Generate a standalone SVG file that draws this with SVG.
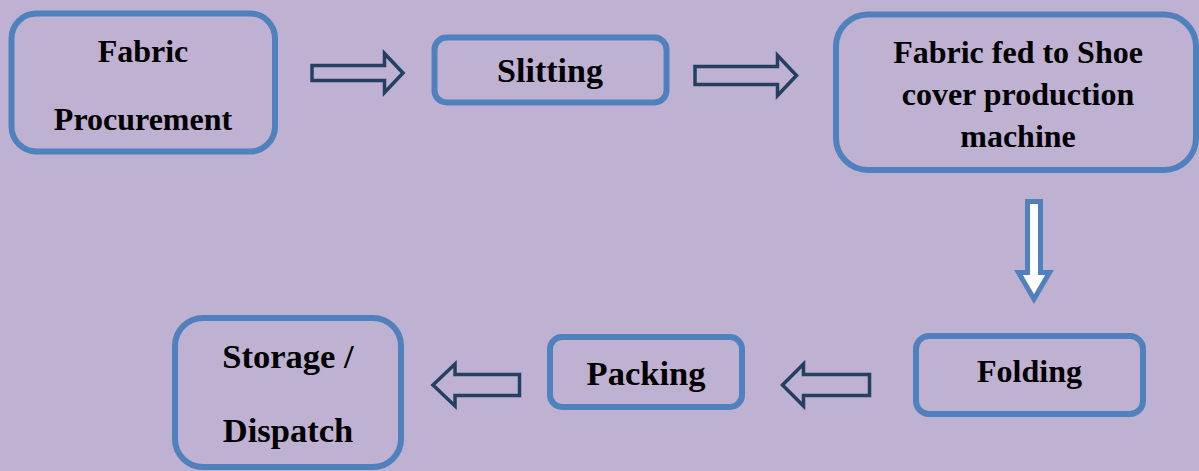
<svg xmlns="http://www.w3.org/2000/svg" width="1199" height="471" viewBox="0 0 1199 471">
<style>
.box{fill:none;stroke:#4F81BD;stroke-width:6}
.t{font-family:"Liberation Serif","Times New Roman",serif;font-weight:bold;font-size:32px;fill:#000;text-anchor:middle}
.big{font-size:34.5px}
.ar{fill:none;stroke:#243F60;stroke-width:3.5;stroke-linejoin:miter}
.ad{fill:#FFFFFF;stroke:#4F81BD;stroke-width:5;stroke-linejoin:miter}
</style>
<rect width="1199" height="471" fill="#BFB1D1"/>
<g id="connectors">
<path class="ar" d="M312,65.5 H384.5 V53.5 L403,73 L384.5,92.5 V80.5 H312 Z"/>
<path class="ar" d="M695,66.5 H777.5 V55.5 L796.5,75.5 L777.5,95.5 V84.5 H695 Z"/>
<path class="ad" d="M1027.5,201.5 H1040.5 V272.5 H1049.5 L1034,299 L1018.5,272.5 H1027.5 Z"/>
<path class="ar" d="M869.5,374.5 H803.5 V364 L782.5,385 L803.5,406 V395.5 H869.5 Z"/>
<path class="ar" d="M519.5,374.5 H455 V364 L433,385 L455,406 V395.5 H519.5 Z"/>
</g>
<g id="n1"><rect class="box" x="11.5" y="13.5" width="263.5" height="138" rx="25"/>
<text class="t" x="143" y="62">Fabric</text><text class="t" x="143" y="130">Procurement</text></g>
<g id="n2"><rect class="box" x="434.5" y="37.5" width="232" height="65" rx="12"/>
<text class="t" x="550" y="82" style="font-size:34px">Slitting</text></g>
<g id="n3"><rect class="box" x="836" y="14.5" width="360" height="155.5" rx="32"/>
<text class="t" x="1018" y="63">Fabric fed to Shoe</text><text class="t" x="1018" y="105">cover production</text><text class="t" x="1018" y="147">machine</text></g>
<g id="n4"><rect class="box" x="916" y="336" width="227" height="78" rx="13"/>
<text class="t" x="1029.5" y="382">Folding</text></g>
<g id="n5"><rect class="box" x="550" y="337" width="192" height="70" rx="12"/>
<text class="t big" x="646" y="385">Packing</text></g>
<g id="n6"><rect class="box" x="175" y="318" width="226" height="149" rx="28"/>
<text class="t big" x="288" y="368">Storage /</text><text class="t big" x="288" y="442">Dispatch</text></g>
</svg>
